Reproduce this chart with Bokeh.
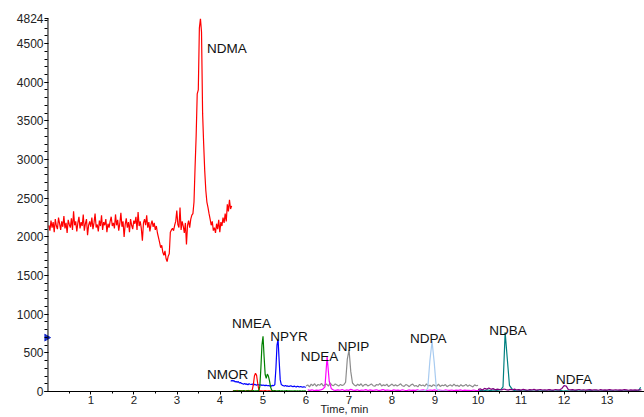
from bokeh.plotting import figure
from bokeh.models import FixedTicker, Range1d, Span
from bokeh.core.properties import value
from bokeh.embed import file_html
from bokeh.resources import INLINE
import numpy as np

# ---------------- data ----------------
# each trace: start time (min), sampling step (min), intensities
ndma_t0, ndma_dt = 0.02, 0.025
ndma = [2150, 2080, 2210, 2120, 2190, 2060, 2230, 2140, 2100, 2250,
        2170, 2090, 2200, 2130, 2270, 2110, 2180, 2050, 2220, 2160,
        2120, 2240, 2090, 2330, 2150, 2200, 2070, 2180, 2260, 2110,
        2190, 2140, 2290, 2080, 2170, 2230, 2020, 2150, 2200, 2130,
        2250, 2100, 2180, 2300, 2120, 2160, 2070, 2210, 2140, 2280,
        2090, 2190, 2150, 2230, 2060, 2170, 2120, 2200, 2260, 2140,
        2180, 2110, 2290, 2150, 2220, 2080, 2170, 2310, 2130, 2200,
        2000, 2160, 2240, 2120, 2190, 2060, 2230, 2150, 2100, 2210,
        2170, 2260, 2090, 2320, 2140, 2200, 2110, 1950, 2180, 2230,
        2150, 2280, 2120, 2190, 2070, 2160, 2210, 2130, 2180, 2090,
        2140, 2050, 1990, 1930, 1860, 1890, 1800, 1760, 1820, 1720,
        1680, 1750, 1780, 2060, 2090, 2110, 2080, 2150, 2200, 2340,
        2160, 2120, 2380, 2090, 2200, 2140, 2050, 2180, 1900, 2150,
        2210, 2120, 2230, 2280, 2300, 2450, 2900, 3300, 3850, 3900,
        4700, 4824, 4650, 3600, 3200, 2850, 2600, 2450, 2380, 2300,
        2230, 2150, 2200, 2080, 2120, 2050, 2170, 2100, 2220, 2060,
        2190, 2140, 2250, 2180, 2300, 2200, 2420, 2330, 2480, 2360,
        2400]

nmor_t0, nmor_dt = 4.30, 0.025
nmor = [8, 12, 6, 10, 14, 7, 9, 12, 5, 10, 13, 8, 6, 11, 9, 14, 7, 10,
        20, 90, 200, 235, 210, 110, 30, 12, 8, 10, 6, 9, 11, 7, 5, 8,
        10, 6, 9, 7, 5, 8, 6]

nmea_t0, nmea_dt = 4.30, 0.025
nmea = [10, 6, 12, 8, 5, 9, 11, 7, 10, 6, 13, 8, 5, 9, 12, 7, 6, 10,
        8, 11, 5, 9, 7, 10, 15, 60, 300, 600, 715, 450, 220, 170, 225,
        200, 140, 60, 20, 10, 8, 12, 6, 9, 7, 11, 5, 8, 10, 6, 9, 7,
        12, 5, 8, 10, 6, 9, 4, 7, 10, 6, 8, 5, 9, 7, 6, 8, 5, 7, 6]

npyr_t0, npyr_dt = 4.25, 0.025
npyr = [130, 145, 135, 140, 125, 130, 120, 128, 110, 115, 105,
        100, 95, 105, 92, 98, 88, 100, 94, 90, 96, 85, 92, 88, 80, 90,
        86, 82, 88, 78, 84,
        80, 76, 82, 74, 78, 72, 76, 70, 80, 75, 90,
        300, 600, 675, 400, 150, 90,
        80, 75, 70, 78, 68, 72, 65, 70, 74, 66, 62, 70, 64, 60, 68, 63,
        58, 65, 60, 56, 62, 58, 55]

ndea_t0, ndea_dt = 6.04, 0.05
ndea = [20, 15, 22, 12, 18, 14, 20, 30, 60, 450, 130, 35,
        18, 14, 22, 16, 25, 12, 20, 15, 28, 18, 14, 22, 12, 19, 16, 24,
        13, 20, 15, 18, 22, 12, 17, 25, 14, 19, 16, 12, 21, 15, 18, 13,
        23, 16, 12, 20, 15, 18, 14, 22, 13, 17, 20, 12, 16, 19, 14, 21,
        13, 18, 15, 12, 20, 16, 14, 19, 12, 17, 15, 20, 13, 18, 14, 16,
        12, 19, 15, 13, 17, 14]

npip_t0, npip_dt = 6.00, 0.04
npip = [70, 85, 60, 95, 75, 100, 68, 90, 80, 105, 72, 88, 95, 70, 110,
        82, 76, 98, 85, 70, 92, 78, 88,
        120, 420, 540, 260, 110,
        85, 70, 95, 78, 100, 66, 88, 92, 72, 84, 98, 75, 68, 90, 82, 104,
        70, 86, 76, 94, 64, 80, 96, 72, 88, 70, 84, 100, 74, 66, 90, 80,
        62, 86, 95, 70, 78, 60, 92, 75, 84, 68, 98, 72, 80, 64, 88, 76,
        70, 94, 66, 82, 74, 90, 62, 78, 86, 68, 96, 72, 80, 64, 88, 70,
        76, 92, 66, 84, 72, 60, 86, 74, 80]

ndpa_t0, ndpa_dt = 8.58, 0.05
ndpa = [5, 8, 6, 10, 15, 40, 400, 650, 380, 40, 12, 8, 6, 5, 4]

ndba_t0, ndba_dt = 10.03, 0.05
ndba = [12, 18, 10, 15, 20, 12, 16, 22, 14, 18, 25, 60, 765, 420, 80,
        40, 15, 10, 8, 12, 6, 9, 11, 7, 10, 5, 8, 12, 6, 9, 7, 10, 5,
        8, 11, 6, 9, 7, 12, 5, 8, 10, 6, 9, 7, 11, 5, 8, 10, 6, 9, 7,
        12, 5, 8, 10, 6, 9, 7, 11, 5, 8, 10, 6, 9, 7, 12, 5, 8, 10, 6,
        9, 7, 11, 5, 55]

ndfa_t0, ndfa_dt = 10.00, 0.05
ndfa = [25, 35, 20, 40, 30, 45, 28, 38, 22, 30, 26, 20, 32, 24, 18,
        28, 22, 30, 20, 25, 18, 27, 22, 16, 24, 20, 28, 18, 22, 26, 19,
        23, 17, 25, 21, 18, 26, 20, 22, 40, 75, 70, 25, 20, 24, 18, 22,
        26, 19, 23, 17, 21, 25, 18, 22, 20, 16, 24, 19, 22, 18, 25, 20,
        17, 23, 19, 21, 18, 24, 20, 16, 22, 19, 21, 18, 20, 22]

compounds = ["NDMA", "NMOR", "NMEA", "NPYR", "NDEA", "NPIP", "NDPA", "NDBA", "NDFA"]
label_x = [3.70, 3.70, 4.28, 5.17, 5.88, 6.74, 8.42, 10.26, 11.81]
label_y = [4436, 221, 883, 712, 457, 576, 682, 789, 150]

y_ticks = [0, 500, 1000, 1500, 2000, 2500, 3000, 3500, 4000, 4500, 4824]
x_ticks = list(range(1, 14))
marker_level = [697]  # blue threshold marker on the intensity axis

# ---------------- figure ----------------
p = figure(width=644, height=417, output_backend="svg", toolbar_location=None,
           x_range=Range1d(-0.081, 13.87), y_range=Range1d(0, 4824),
           min_border_left=44, min_border_right=0, min_border_top=18,
           min_border_bottom=22)
p.outline_line_color = None
p.grid.visible = False
p.background_fill_color = "white"

traces = [
    (ndma_t0, ndma_dt, ndma, "#ff0000"),
    (npip_t0, npip_dt, npip, "#8c8c8c"),
    (npyr_t0, npyr_dt, npyr, "#0000ff"),
    (nmor_t0, nmor_dt, nmor, "#ff0000"),
    (nmea_t0, nmea_dt, nmea, "#008000"),
    (ndea_t0, ndea_dt, ndea, "#ff00ff"),
    (ndpa_t0, ndpa_dt, ndpa, "#a8cbf0"),
    (ndba_t0, ndba_dt, ndba, "#008080"),
    (ndfa_t0, ndfa_dt, ndfa, "#800080"),
]
for t0, dt, vals, col in traces:
    t = t0 + dt * np.arange(len(vals))
    p.line(t, vals, line_color=col, line_width=1.2)

p.text(x=label_x, y=label_y, text=compounds, text_font=value("Liberation Sans"),
       text_font_size="13.5px", text_color="#111111", text_baseline="alphabetic",
       text_align="left")

# intensity axis spine at t = 0
p.add_layout(Span(location=0, dimension="height", line_color="black",
                  line_width=1))
# threshold marker just left of the spine
p.scatter(x=[-0.035], y=marker_level, marker="triangle", size=7,
          angle=-np.pi / 2, fill_color="#1428c8", line_color="#1428c8")

for ax in (p.xaxis[0], p.yaxis[0]):
    ax.major_tick_line_color = "black"
    ax.minor_tick_line_color = "black"
    ax.major_label_text_font = "Liberation Sans"
    ax.major_label_text_color = "#222222"

xa = p.xaxis[0]
xa.axis_line_color = "black"
xa.major_tick_in = 0
xa.major_tick_out = 3
xa.minor_tick_in = 0
xa.minor_tick_out = 2
xa.ticker = FixedTicker(ticks=x_ticks, minor_ticks=[i + 0.5 for i in range(0, 14)])
xa.major_label_standoff = 1
xa.major_label_text_font_size = "11.5px"
xa.axis_label = "Time, min"
xa.axis_label_text_font = "Liberation Sans"
xa.axis_label_text_font_size = "11px"
xa.axis_label_text_font_style = "normal"
xa.axis_label_text_color = "#222222"
xa.axis_label_standoff = -4

ya = p.yaxis[0]
ya.axis_line_color = None
ya.major_tick_out = 0
ya.major_tick_in = 4
ya.minor_tick_out = 0
ya.minor_tick_in = 3
ya.ticker = FixedTicker(ticks=y_ticks, minor_ticks=list(range(0, 4824, 100)))
ya.major_label_standoff = 1
ya.major_label_text_font_size = "12px"

open("out.html", "w").write(file_html(p, INLINE))
